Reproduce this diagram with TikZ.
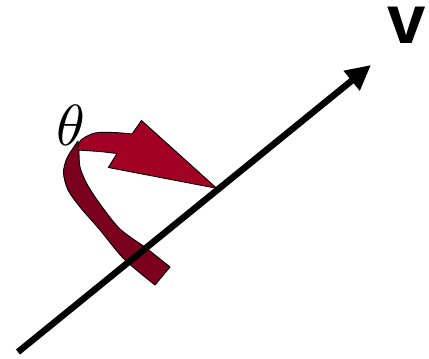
\documentclass[tikz,border=0pt]{standalone}
\usepackage{fontspec}
\newfontfamily\vfont{Liberation Sans}
\usetikzlibrary{arrows.meta}
\definecolor{frontred}{RGB}{163,0,38}
\definecolor{backred}{RGB}{122,0,30}
\tikzset{
  ribbon/.style={draw=black, line width=0.9pt, line join=round},
  axis/.style={line width=6.5pt, -{Triangle[length=25pt,width=24pt]}},
}
\begin{document}
\begin{tikzpicture}[x=1pt,y=-1pt]
\useasboundingbox (0,0) rectangle (429,359);
% back (dark) part of ribbon
\filldraw[ribbon, fill=backred] plot[smooth] coordinates {(78,141) (67,158) (63.5,173) (68,190) (80,207) (100,230) (124,259) (155,285)}
  -- (170,267)
  -- plot[smooth] coordinates {(145,247) (120,229) (100,204) (87,184) (80,167) (79,150)} -- cycle;
% front part with arrowhead
\filldraw[ribbon, fill=frontred] plot[smooth] coordinates {(77,150) (81,140) (95,133) (114,132.5) (132,134)}
  -- (141.5,120.5) -- (216.7,188.3) -- (108.3,167.5) -- (117,153.5)
  -- plot[smooth] coordinates {(100,151.5) (85,150.5) (77,150)} -- cycle;
% axis
\coordinate (s) at (18,352);
\coordinate (e) at (371,65);
\draw[axis] (s) -- (e);
\node[scale=5.8, inner sep=0] (theta) at (71,125) {$\theta$};
\node[inner sep=0, text height=36pt, text depth=0pt, anchor=south] (v) at (407,44) {\vfont\bfseries\fontsize{69}{71}\selectfont v};
\end{tikzpicture}
\end{document}
